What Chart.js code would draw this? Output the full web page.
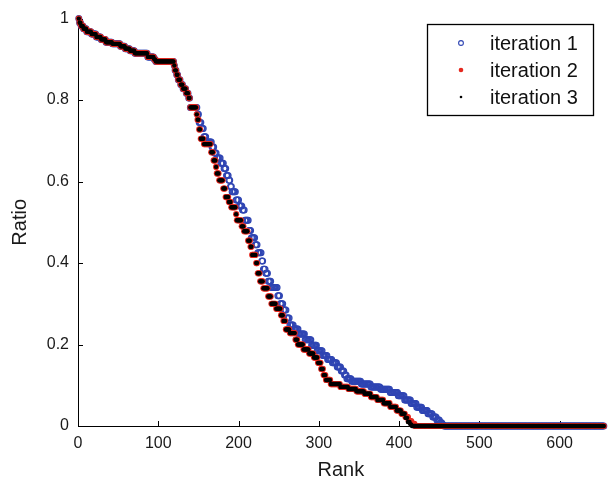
<!DOCTYPE html>
<html>
<head>
<meta charset="utf-8">
<script src="https://cdn.jsdelivr.net/npm/chart.js@4.4.1/dist/chart.umd.min.js"></script>
<style>
  html, body { margin: 0; padding: 0; background: #fff; }
  #wrap { width: 609px; height: 482px; position: relative; }
</style>
</head>
<body>
<div id="wrap"><canvas id="rankChart"></canvas></div>
<script>
// Ratio by rank, kept as runs: [ratio, number of consecutive ranks], starting at rank 1
const iteration1Runs = [
    [1.0, 1], [0.99, 2], [0.982, 3], [0.975, 4], [0.968, 6], [0.962, 6], [0.955, 6], [0.949, 6],
    [0.942, 8], [0.938, 10], [0.932, 6], [0.926, 6], [0.921, 6], [0.915, 16], [0.906, 8], [0.9, 2],
    [0.895, 23], [0.885, 1], [0.873, 2], [0.862, 2], [0.85, 3], [0.838, 3], [0.828, 4], [0.817, 3],
    [0.805, 2], [0.782, 9], [0.765, 2], [0.745, 3], [0.73, 3], [0.71, 3], [0.697, 7], [0.685, 3],
    [0.67, 3], [0.658, 5], [0.645, 4], [0.632, 3], [0.615, 3], [0.603, 2], [0.588, 2], [0.575, 5],
    [0.555, 4], [0.54, 4], [0.53, 3], [0.505, 5], [0.48, 3], [0.462, 5], [0.445, 3], [0.425, 5],
    [0.405, 2], [0.385, 3], [0.375, 3], [0.355, 4], [0.34, 8], [0.32, 3], [0.3, 4], [0.285, 4],
    [0.265, 4], [0.248, 5], [0.238, 6], [0.226, 8], [0.212, 8], [0.198, 7], [0.185, 7], [0.173, 6],
    [0.163, 6], [0.155, 6], [0.145, 5], [0.135, 4], [0.125, 3], [0.116, 6], [0.11, 12], [0.103, 12],
    [0.096, 12], [0.09, 12], [0.082, 10], [0.074, 8], [0.064, 8], [0.055, 7], [0.046, 7], [0.038, 7],
    [0.03, 6], [0.022, 5], [0.015, 4], [0.008, 3], [0.003, 2], [0, 200]
];
const iteration2Runs = [
    [1.0, 1], [0.99, 2], [0.982, 3], [0.975, 4], [0.968, 6], [0.962, 6], [0.955, 6], [0.949, 6],
    [0.942, 8], [0.938, 10], [0.932, 6], [0.926, 6], [0.921, 6], [0.915, 16], [0.906, 8], [0.9, 2],
    [0.895, 23], [0.885, 1], [0.873, 2], [0.862, 2], [0.85, 3], [0.838, 3], [0.828, 4], [0.817, 3],
    [0.805, 2], [0.782, 8], [0.765, 1], [0.752, 2], [0.728, 2], [0.705, 4], [0.692, 9], [0.672, 3],
    [0.652, 3], [0.636, 1], [0.62, 3], [0.603, 5], [0.583, 3], [0.562, 4], [0.55, 3], [0.537, 6],
    [0.52, 1], [0.505, 6], [0.49, 3], [0.478, 5], [0.455, 3], [0.44, 2], [0.42, 5], [0.4, 2],
    [0.375, 3], [0.355, 4], [0.338, 6], [0.318, 4], [0.3, 6], [0.288, 6], [0.272, 3], [0.258, 3],
    [0.237, 5], [0.228, 7], [0.212, 3], [0.2, 7], [0.188, 7], [0.178, 6], [0.168, 5], [0.155, 4],
    [0.14, 3], [0.125, 3], [0.113, 6], [0.103, 12], [0.096, 10], [0.091, 10], [0.085, 10], [0.079, 8],
    [0.071, 8], [0.064, 8], [0.056, 8], [0.047, 8], [0.038, 6], [0.03, 5], [0.022, 4], [0.012, 4],
    [0.005, 4], [0, 236]
];
const iteration3Runs = [
    [1.0, 1], [0.99, 2], [0.982, 3], [0.975, 4], [0.968, 6], [0.962, 6], [0.955, 6], [0.949, 6],
    [0.942, 8], [0.938, 10], [0.932, 6], [0.926, 6], [0.921, 6], [0.915, 16], [0.906, 8], [0.9, 2],
    [0.895, 23], [0.885, 1], [0.873, 2], [0.862, 2], [0.85, 3], [0.838, 3], [0.828, 4], [0.817, 3],
    [0.805, 2], [0.782, 8], [0.765, 1], [0.752, 2], [0.728, 2], [0.705, 4], [0.692, 9], [0.672, 3],
    [0.652, 3], [0.636, 1], [0.62, 3], [0.603, 5], [0.583, 3], [0.562, 4], [0.55, 3], [0.537, 6],
    [0.52, 1], [0.505, 6], [0.49, 3], [0.478, 5], [0.455, 3], [0.44, 2], [0.42, 5], [0.4, 2],
    [0.375, 3], [0.355, 4], [0.338, 6], [0.318, 4], [0.3, 6], [0.288, 6], [0.272, 3], [0.258, 3],
    [0.237, 5], [0.228, 7], [0.212, 3], [0.2, 7], [0.188, 7], [0.178, 6], [0.168, 5], [0.155, 4],
    [0.14, 3], [0.125, 3], [0.113, 6], [0.103, 12], [0.096, 10], [0.091, 10], [0.085, 10], [0.079, 8],
    [0.071, 8], [0.064, 8], [0.056, 8], [0.047, 8], [0.038, 6], [0.03, 5], [0.02, 3], [0.01, 3],
    [0.004, 2], [0, 240]
];

const seriesNames = ['iteration 1', 'iteration 2', 'iteration 3'];
const rankTicks = [0, 100, 200, 300, 400, 500, 600];
const ratioTicks = [0, 0.2, 0.4, 0.6, 0.8, 1];
const rankMax = 655;

const fontFamily = '"Liberation Sans", Arial, Helvetica, sans-serif';

function runsToPoints(runs) {
    const points = [];
    let rank = 1;
    runs.forEach(([ratio, count]) => {
        for (let i = 0; i < count; i++) {
            points.push({ x: rank, y: ratio });
            rank++;
        }
    });
    return points;
}

// small tick marks pointing into the plot
const inwardTicks = {
    id: 'inwardTicks',
    beforeDatasetsDraw(chart) {
        const { ctx, chartArea, scales: { x, y } } = chart;
        ctx.save();
        ctx.strokeStyle = '#000';
        ctx.lineWidth = 1;
        ctx.beginPath();
        rankTicks.forEach(v => {
            const px = Math.round(x.getPixelForValue(v)) + 0.5;
            ctx.moveTo(px, chartArea.bottom);
            ctx.lineTo(px, chartArea.bottom - 5);
        });
        ratioTicks.forEach(v => {
            const py = Math.round(y.getPixelForValue(v)) + 0.5;
            ctx.moveTo(chartArea.left, py);
            ctx.lineTo(chartArea.left + 5, py);
        });
        ctx.stroke();
        ctx.restore();
    }
};

// boxed legend in the upper right corner
const boxLegend = {
    id: 'boxLegend',
    afterDraw(chart) {
        const ctx = chart.ctx;
        const box = { left: 427.5, top: 24.5, width: 166, height: 91 };
        const markerSizes = [2.4, 2.3, 1.3];
        ctx.save();
        ctx.fillStyle = '#fff';
        ctx.fillRect(box.left, box.top, box.width, box.height);
        ctx.strokeStyle = '#000';
        ctx.lineWidth = 1.3;
        ctx.strokeRect(box.left, box.top, box.width, box.height);

        ctx.font = '20px ' + fontFamily;
        ctx.textBaseline = 'middle';
        ctx.textAlign = 'left';
        chart.data.datasets.forEach((ds, i) => {
            const cy = 43 + i * 27;
            ctx.beginPath();
            ctx.arc(461, cy, markerSizes[i], 0, Math.PI * 2);
            if (ds.pointBorderWidth > 0) {
                ctx.strokeStyle = ds.pointBorderColor;
                ctx.lineWidth = 1.1;
                ctx.stroke();
            } else {
                ctx.fillStyle = ds.pointBackgroundColor;
                ctx.fill();
            }
            ctx.fillStyle = '#111';
            ctx.fillText(ds.label, 490, cy + 1);
        });
        ctx.restore();
    }
};

const ctx = document.getElementById('rankChart').getContext('2d');

new Chart(ctx, {
    type: 'scatter',
    data: {
        datasets: [
            {
                label: seriesNames[0],
                data: runsToPoints(iteration1Runs),
                pointRadius: 2.9,
                pointBorderWidth: 1.2,
                pointBorderColor: '#2f45b3',
                pointBackgroundColor: 'rgba(255,255,255,0)',
                order: 3,
                clip: false
            },
            {
                label: seriesNames[1],
                data: runsToPoints(iteration2Runs),
                pointRadius: 3.1,
                pointBorderWidth: 0,
                pointBorderColor: '#e5291f',
                pointBackgroundColor: '#e5291f',
                order: 2,
                clip: false
            },
            {
                label: seriesNames[2],
                data: runsToPoints(iteration3Runs),
                pointRadius: 2.2,
                pointBorderWidth: 0,
                pointBorderColor: '#000',
                pointBackgroundColor: '#000',
                order: 1,
                clip: false
            }
        ]
    },
    options: {
        responsive: true,
        maintainAspectRatio: false,
        animation: false,
        events: [],
        layout: {
            padding: { left: 0, right: 3, top: 18, bottom: 0 }
        },
        plugins: {
            legend: { display: false },
            tooltip: { enabled: false }
        },
        scales: {
            x: {
                type: 'linear',
                min: 0,
                max: rankMax,
                afterFit: scale => { scale.height = 56; },
                afterBuildTicks: scale => { scale.ticks = rankTicks.map(v => ({ value: v })); },
                grid: { display: false, drawTicks: false },
                border: { display: true, color: '#000', width: 1 },
                ticks: {
                    padding: 8,
                    color: '#1a1a1a',
                    maxRotation: 0,
                    callback: value => String(value),
                    font: { family: fontFamily, size: 16 }
                },
                title: {
                    display: true,
                    text: 'Rank',
                    color: '#1a1a1a',
                    padding: { top: 0, bottom: 0 },
                    font: { family: fontFamily, size: 20, lineHeight: 1.2 }
                }
            },
            y: {
                type: 'linear',
                min: 0,
                max: 1,
                afterFit: scale => { scale.width = 78; },
                afterBuildTicks: scale => { scale.ticks = ratioTicks.map(v => ({ value: v })); },
                grid: { display: false, drawTicks: false },
                border: { display: true, color: '#000', width: 1 },
                ticks: {
                    padding: 9,
                    color: '#1a1a1a',
                    callback: value => String(value),
                    font: { family: fontFamily, size: 16 }
                },
                title: {
                    display: true,
                    text: 'Ratio',
                    color: '#1a1a1a',
                    padding: { top: 8, bottom: 0 },
                    font: { family: fontFamily, size: 20, lineHeight: 1.2 }
                }
            }
        }
    },
    plugins: [inwardTicks, boxLegend]
});
</script>
</body>
</html>
